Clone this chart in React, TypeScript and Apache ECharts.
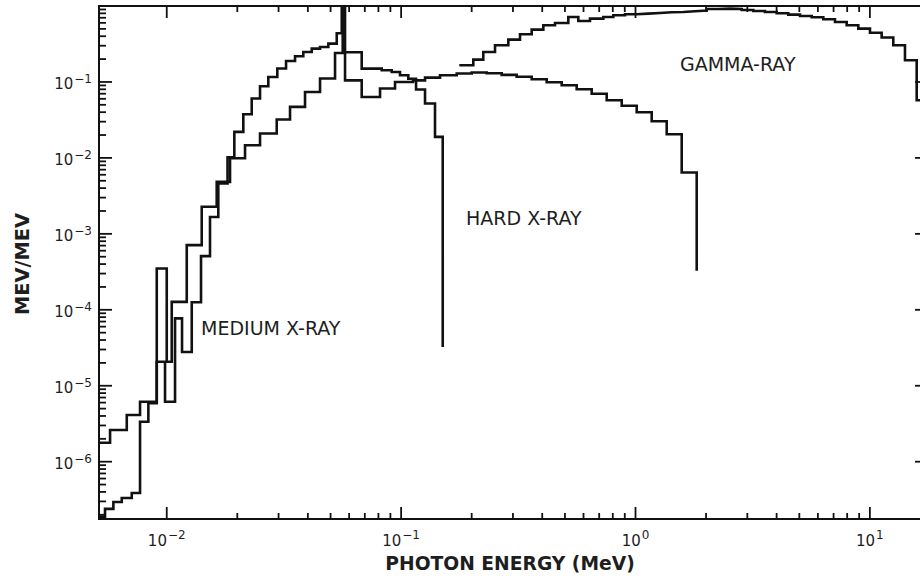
import React, { useEffect, useRef } from "react";
import * as echarts from "echarts";

// ---- axis ranges ----
const X_MIN = 0.00514;
const X_MAX = 17.7;
const Y_MIN = 1.76e-7;
const Y_MAX = 1;

// ---- MEDIUM X-RAY: bin left edges (MeV), last entry = upper edge of last bin ----
const mediumE = [
  0.00514, 0.005453, 0.00592, 0.006427, 0.007091, 0.007692, 0.008347, 0.009065,
  0.009833, 0.010849, 0.011621, 0.012785, 0.014004, 0.015296, 0.016595, 0.018172,
  0.019427, 0.021221, 0.023045, 0.025003, 0.027126, 0.029631, 0.032285, 0.035268,
  0.038253, 0.041554, 0.045082, 0.048919, 0.053125, 0.0558, 0.05735, 0.067893,
  0.08264, 0.091174, 0.098924, 0.10733, 0.1158, 0.12647, 0.1395, 0.15049,
];
// bin values (MeV/MeV); last entry = value the line drops to at the end
const mediumV = [
  1.89e-7, 2.39e-7, 2.95e-7, 3.33e-7, 3.87e-7, 3.36e-6, 5.87e-6, 2.07e-5,
  6.16e-6, 7.7e-5, 2.78e-5, 1.26e-4, 5.09e-4, 1.67e-3, 4.6e-3, 1.02e-2,
  2.2e-2, 3.76e-2, 6.05e-2, 8.78e-2, 0.1163, 0.1501, 0.189, 0.218,
  0.248, 0.275, 0.289, 0.32, 0.437, 1.0, 0.246, 0.15,
  0.1425, 0.1354, 0.1225, 0.11, 0.0794, 0.052, 0.0189, 3.23e-5,
];

// ---- HARD X-RAY ----
const hardE = [
  0.00514, 0.00573, 0.006752, 0.007692, 0.009065, 0.01, 0.010503, 0.012171,
  0.014101, 0.016336, 0.018621, 0.021578, 0.025003, 0.029461, 0.033574, 0.038905,
  0.045082, 0.05224, 0.05633, 0.05764, 0.067893, 0.081283, 0.094184, 0.11241,
  0.12647, 0.14655, 0.17266, 0.20003, 0.23182, 0.26858, 0.31117, 0.36061,
  0.41783, 0.48417, 0.56115, 0.65028, 0.75353, 0.87331, 1.0119, 1.1724,
  1.3589, 1.5744, 1.8245,
];
const hardV = [
  1.78e-6, 2.61e-6, 4.12e-6, 6.16e-6, 3.5e-4, 2.07e-5, 1.27e-4, 7.1e-4,
  2.27e-3, 4.83e-3, 9.91e-3, 1.47e-2, 2.1e-2, 3.2e-2, 4.69e-2, 7.39e-2,
  0.111, 0.241, 0.93, 0.105, 0.0635, 0.0819, 0.1, 0.105,
  0.114, 0.1225, 0.129, 0.133, 0.13, 0.124, 0.117, 0.1085,
  0.0991, 0.0905, 0.0801, 0.0699, 0.0574, 0.0486, 0.0399, 0.0304,
  0.0205, 0.00643, 3.26e-4,
];

// ---- GAMMA-RAY ----
const gammaE = [
  0.17712, 0.20324, 0.22416, 0.25154, 0.2867, 0.32154, 0.36061, 0.40436,
  0.4534, 0.5169, 0.57016, 0.63948, 0.72894, 0.80404, 0.90191, 1.0119,
  1.1339, 1.2721, 1.4267, 1.5996, 1.7943, 2.0128, 2.2554, 2.5297,
  2.8384, 3.181, 3.5678, 4.0036, 4.4853, 5.0324, 5.6459, 6.3271,
  7.0989, 7.9616, 8.9236, 10.01, 11.226, 12.585, 14.117, 15.837, 17.7,
];
const gammaV = [
  0.166, 0.197, 0.248, 0.304, 0.361, 0.424, 0.489, 0.557,
  0.598, 0.717, 0.635, 0.683, 0.717, 0.755, 0.778, 0.794,
  0.809, 0.826, 0.834, 0.852, 0.87, 0.913, 0.924, 0.913,
  0.886, 0.86, 0.834, 0.802, 0.771, 0.739, 0.71, 0.668,
  0.616, 0.557, 0.504, 0.444, 0.384, 0.304, 0.193, 0.0574, 0.0574,
];

// ---- ticks ----
const xMajorTicks = [0.01, 0.1, 1, 10];
const yMajorTicks = [1e-6, 1e-5, 1e-4, 1e-3, 1e-2, 1e-1];
const tickMultipliers = [2, 3, 4, 5, 6, 7, 8, 9];
const xMinorDecades = [0.01, 0.1, 1];
const yMinorDecades = [1e-7, 1e-6, 1e-5, 1e-4, 1e-3, 1e-2, 1e-1];

const curveLabels = [
  { text: "MEDIUM X-RAY", x: 201, y: 328 },
  { text: "HARD X-RAY", x: 466, y: 218 },
  { text: "GAMMA-RAY", x: 680, y: 64 },
];

const FONT = '"DejaVu Sans", Verdana, sans-serif';
const INK = "#111";
const TXT = "#1e1e1e";

const minorOf = (decades: number[]) =>
  decades.flatMap((d) => tickMultipliers.map((k) => +(k * d).toPrecision(3)));

const toPoints = (E: number[], V: number[]) => E.map((e, i) => [e, V[i]]);

const expLabel = (v: number, hideNonNeg: boolean) => {
  const l = Math.log10(v);
  const e = Math.round(l);
  if (Math.abs(l - e) > 1e-6) return "";
  if (hideNonNeg && e >= 0) return "";
  const sup = e < 0 ? "\u2212" + Math.abs(e) : String(e);
  return `{b|10}{s|${sup}}`;
};

const rich = {
  b: { fontSize: 15, fontFamily: FONT, color: TXT, padding: [5, 0, 0, 0] },
  s: { fontSize: 12, fontFamily: FONT, color: TXT, padding: [0, 0, 6, 1] },
};

const xTicks = (values: number[], len: number) => ({
  type: "custom",
  coordinateSystem: "cartesian2d",
  silent: true,
  z: 6,
  data: values.map((v) => [v, 1e-3]),
  renderItem: (params: any, api: any) => {
    const x = api.coord([api.value(0), 1e-3])[0];
    const cs = params.coordSys;
    const style = { stroke: INK, lineWidth: 1.8 };
    return {
      type: "group",
      children: [
        { type: "line", shape: { x1: x, y1: cs.y + cs.height, x2: x, y2: cs.y + cs.height - len }, style },
        { type: "line", shape: { x1: x, y1: cs.y, x2: x, y2: cs.y + len }, style },
      ],
    };
  },
});

const yTicks = (values: number[], len: number) => ({
  type: "custom",
  coordinateSystem: "cartesian2d",
  silent: true,
  z: 6,
  data: values.map((v) => [1, v]),
  renderItem: (params: any, api: any) => {
    const y = api.coord([1, api.value(1)])[1];
    const cs = params.coordSys;
    const style = { stroke: INK, lineWidth: 1.8 };
    return {
      type: "group",
      children: [
        { type: "line", shape: { x1: cs.x, y1: y, x2: cs.x + len, y2: y }, style },
        { type: "line", shape: { x1: cs.x + cs.width, y1: y, x2: cs.x + cs.width - len, y2: y }, style },
      ],
    };
  },
});

const histSeries = (name: string, E: number[], V: number[]) => ({
  name,
  type: "line",
  step: "end",
  data: toPoints(E, V),
  symbol: "none",
  showSymbol: false,
  z: 4,
  lineStyle: { color: INK, width: 2.6, join: "miter", cap: "butt" },
});

export default function App() {
  const ref = useRef<HTMLDivElement>(null);
  useEffect(() => {
    if (!ref.current) return;
    const chart = echarts.init(ref.current, null, { renderer: "svg" });
    chart.setOption({
      animation: false,
      backgroundColor: "#fff",
      grid: {
        left: 99,
        top: 6,
        width: 829,
        height: 513,
        outerBoundsMode: "none",
        show: true,
        borderColor: INK,
        borderWidth: 2,
        backgroundColor: "transparent",
      },
      xAxis: {
        type: "log",
        min: X_MIN,
        max: X_MAX,
        axisLine: { show: false },
        axisTick: { show: false },
        splitLine: { show: false },
        axisLabel: {
          margin: 9,
          formatter: (v: number) => expLabel(v, false),
          rich,
        },
      },
      yAxis: {
        type: "log",
        min: Y_MIN,
        max: Y_MAX,
        axisLine: { show: false },
        axisTick: { show: false },
        splitLine: { show: false },
        axisLabel: {
          margin: 7,
          formatter: (v: number) => expLabel(v, true),
          rich,
        },
      },
      graphic: [
        ...curveLabels.map((c) => ({
          type: "text",
          x: c.x,
          y: c.y,
          silent: true,
          style: {
            text: c.text,
            fontSize: 19,
            fontFamily: FONT,
            fill: TXT,
            align: "left",
            verticalAlign: "middle",
            textAlign: "left",
            textVerticalAlign: "middle",
          },
        })),
        {
          type: "text",
          x: 510,
          y: 563,
          silent: true,
          style: {
            text: "PHOTON ENERGY (MeV)",
            fontSize: 18.7,
            fontWeight: "bold",
            fontFamily: FONT,
            fill: TXT,
            align: "center",
            verticalAlign: "middle",
            textAlign: "center",
            textVerticalAlign: "middle",
          },
        },
        {
          type: "text",
          x: 22,
          y: 264,
          rotation: Math.PI / 2,
          silent: true,
          style: {
            text: "MEV/MEV",
            fontSize: 19.4,
            fontWeight: "bold",
            fontFamily: FONT,
            fill: TXT,
            align: "center",
            verticalAlign: "middle",
            textAlign: "center",
            textVerticalAlign: "middle",
          },
        },
      ],
      series: [
        histSeries("MEDIUM X-RAY", mediumE, mediumV),
        histSeries("HARD X-RAY", hardE, hardV),
        histSeries("GAMMA-RAY", gammaE, gammaV),
        xTicks(xMajorTicks, 12),
        xTicks(minorOf(xMinorDecades), 6),
        yTicks(yMajorTicks, 13),
        yTicks(minorOf(yMinorDecades), 7),
      ],
    });
    return () => chart.dispose();
  }, []);
  return (
    <div
      ref={ref}
      style={{ position: "fixed", left: 0, top: 0, width: 940, height: 578, background: "#fff" }}
    />
  );
}
